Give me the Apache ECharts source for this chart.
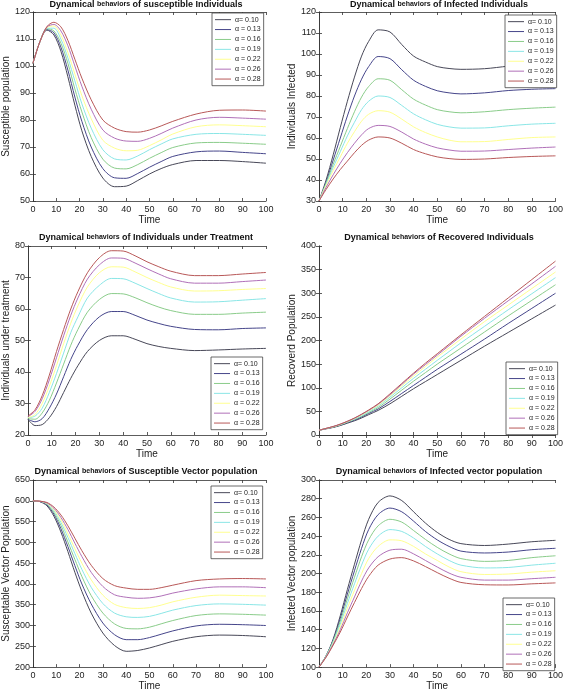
<!DOCTYPE html>
<html><head><meta charset="utf-8">
<script src="https://cdn.jsdelivr.net/npm/echarts@6/dist/echarts.min.js"></script>
<style>html,body{margin:0;padding:0;background:#fff}#c{width:566px;height:692px}</style>
</head><body><div id="c"></div>
<script>
// Time samples shared by all panels
const T = [0,3,6,9,12,15,18,21,25,30,35,40,45,50,55,60,70,80,90,100];
const alphaNames = ['α= 0.10','α = 0.13','α = 0.16','α = 0.19','α = 0.22','α = 0.26','α = 0.28'];

// Panel 1: susceptible individuals
const S_010 = [101,109,113.3,111.5,105.5,96,85.5,76,66.5,58.5,55.3,55.5,57.6,60,62,63.5,65,65,64.6,64];
const S_013 = [101,109,113.5,112.3,107,98.5,88.5,79.5,70,62,58.6,58.4,60.2,62.5,64.6,66.5,68.2,68.5,68,67.5];
const S_016 = [101,109,113.8,113,108.5,101,91.5,83,73.5,65.5,62.2,61.9,63.5,65.8,67.9,69.8,71.5,71.7,71.4,71];
const S_019 = [101,109,114,114,110,103,94.5,86,77,69,65.6,65.2,66.7,69,71.1,73,74.7,75,74.7,74.3];
const S_022 = [101,109,114.2,114.8,111.5,105,97,89,80.5,72.5,69.6,68.6,68.8,70.5,72.6,74.8,77.5,78.2,77.9,77.5];
const S_026 = [101,109,114.4,115.4,113,107.5,100,92.5,84,76.3,73.3,72.2,72.1,73.2,75,77,80,81,80.7,80.3];
const S_028 = [101,109,114.6,116.2,114.5,109.5,102.5,95.5,87.5,80,77,75.7,75.5,76.3,77.8,79.5,82.2,83.6,83.7,83.3];

// Panel 2: infected individuals
const I_010 = [30,40,52,65,77.5,89,99,106,111.5,110.5,104.5,99,96.2,94,93.1,92.7,93,94.2,95.2,95.5];
const I_013 = [30,39,49.5,60,70.5,80,88,94,98.8,97.8,92.5,87.5,84.6,82.5,81.5,81,81.5,82.6,83.2,83.5];
const I_016 = [30,38.5,47.5,56,64.5,72.5,79.5,84.5,88.2,87.5,83,78.5,75.7,73.5,72.5,72,72.5,73.5,74.2,74.7];
const I_019 = [30,38,46,53.5,61,67.5,73.5,77.5,80,79.3,75.5,71.5,68.7,66.5,65.3,64.7,64.8,65.8,66.6,67];
const I_022 = [30,37.5,44.5,51,57.5,63,68,71.3,73,72.3,69,65.3,62.6,60.5,59,58.2,58.3,59.3,60.2,60.5];
const I_026 = [30,36.5,42.5,48,53,57.5,61.5,64.5,66,65.5,62.8,59.5,57.1,55.3,54.3,53.7,53.8,54.5,55.2,55.7];
const I_028 = [30,35.5,40.5,45,49,53,56.5,59,60.5,60,57.5,54.5,52.5,51,50.2,49.8,50,50.7,51.2,51.5];

// Panel 3: individuals under treatment
const Tr_010 = [25,23,23.3,25.5,29,33.5,38,42,46.5,50,51.5,51.5,50.4,49,48.1,47.5,46.8,47,47.3,47.5];
const Tr_013 = [25,24.2,25.2,28.5,33,38.5,44,48.5,53.5,57.5,59.2,59.2,58,56.5,55.4,54.5,53.5,53.4,53.8,54];
const Tr_016 = [25.2,25,27,31,36.5,42.5,48.5,53.5,59,63,64.9,64.8,63.6,62,60.6,59.5,58.3,58.3,58.7,59];
const Tr_019 = [25.5,26,28.5,33.5,39.5,46,52.5,57.5,63.5,67.5,69.7,69.6,68.2,66.5,64.9,63.5,62.2,62.3,62.8,63.3];
const Tr_022 = [25.5,26.5,30,35.5,42,49,55.5,61,67,71.5,73.4,73.3,71.8,70,68.4,67,65.7,65.8,66.2,66.5];
const Tr_026 = [25.8,27.5,31.5,37.5,44.5,51.5,58,63.5,69.5,74,76.2,76.1,74.6,72.8,71.1,69.6,68.2,68.2,68.7,69.2];
const Tr_028 = [26,28,32.5,39,46.5,53.5,60,65.5,71.5,76.3,78.5,78.4,76.9,75,73.4,72,70.6,70.6,71.1,71.6];

// Panel 4: recovered individuals
const R_010 = [10,13,16,20,25,30,36,43,52,66,82,98,113,128,143,158,188,217,246,275];
const R_013 = [10,13.5,16.5,21,26,31.5,38,45.5,55,71,88,105,122,139,155,171,203,236,268,300];
const R_016 = [10,13.5,17,21.5,27,33,39.5,47.5,58,76,95,114,132,150,167,184,218,252,285,318];
const R_019 = [10,14,17.5,22,28,34,41,49,61,80,100,120,139,158,176.5,195,230,265,299,333];
const R_022 = [10,14,17.5,22.5,28.5,35,42.5,51,63,83,104,125,145,165,184,203,240,275,310,345];
const R_026 = [10,14,18,23,29,35.5,43.5,52,65,85,107,129,149,169,189,209,247,284,320,357];
const R_028 = [10,14,18,23,29,36,44,53,66,87,109,131,152,172,192,212,251,290,329,368];

// Panel 5: susceptible vector population
const SV_010 = [600,598,588,563,525,478,428,382,330,282,252,238,240,246,254,262,273,277,276,273];
const SV_013 = [600,598,590,568,533,490,444,400,352,306,278,266,266,271,279,287,299,303,302,300];
const SV_016 = [600,599,592,572,541,501,459,418,372,330,304,293,292,296,304,312,324,328,327,325];
const SV_019 = [600,599,593,576,548,512,473,435,392,353,330,321,319.5,322,329,337,348,352,351,349];
const SV_022 = [600,599,594,579,554,521,485,450,410,373,351,343,341,343,349,357,368,373,372,371];
const SV_026 = [600,599,595,582,560,531,498,466,428,394,374,368,365.5,366.5,371,378,388,393,393,391];
const SV_028 = [600,599,596,585,566,540,510,480,445,413,396,390,387,387,391,397,408,412,413,412];

// Panel 6: infected vector population
const IV_010 = [100,112,130,155,183,210,236,258,276,283,278,266,254,244,236.5,232,230,231.5,234,235.5];
const IV_013 = [100,112,129,152,178,203,227,247,263,270,266,256,245,236,229,224,222,223,225.5,227];
const IV_016 = [100,112,128,149,173,196,218,236,251,258,255,246,236.5,228,221,216,213,214,217,219];
const IV_019 = [100,111.5,127,146,168,189,209,226,240,247,245,238,229,221,214,209,206,206.5,209,211];
const IV_022 = [100,111,125.5,143,163,182,200,216,229,236,235,229,221,214,207,202,199,199.5,201.5,203];
const IV_026 = [100,111,124.5,140,158,175,192,206,218,225,226,221,214,207,200.5,196,193,193,194.5,196];
const IV_028 = [100,110.5,123.5,137.5,153.5,169,184,197,209,215.5,217,213.5,207.5,201,195,190.5,188,187.8,189,190];

const titles = [
  ['Dynamical ','behaviors',' of susceptible Individuals'],
  ['Dynamical ','behaviors',' of Infected Individuals'],
  ['Dynamical ','behaviors',' of Individuals under Treatment'],
  ['Dynamical ','behaviors',' of Recovered Individuals'],
  ['Dynamical ','behaviors',' of Susceptible Vector population'],
  ['Dynamical ','behaviors',' of Infected vector population']
];
const yNames = ['Susceptible population','Individuals Infected','Individuals under treatment','Recoverd Population','Susceptable Vector Population','Infected Vector population'];
const yRanges = [[50,120,10],[30,120,10],[20,80,10],[0,400,50],[200,650,50],[100,300,20]];
const panelData = [
  [S_010,S_013,S_016,S_019,S_022,S_026,S_028],
  [I_010,I_013,I_016,I_019,I_022,I_026,I_028],
  [Tr_010,Tr_013,Tr_016,Tr_019,Tr_022,Tr_026,Tr_028],
  [R_010,R_013,R_016,R_019,R_022,R_026,R_028],
  [SV_010,SV_013,SV_016,SV_019,SV_022,SV_026,SV_028],
  [IV_010,IV_013,IV_016,IV_019,IV_022,IV_026,IV_028]
];

// ---- layout / style ----
const colors = ['#484858','#45458a','#8acc8a','#8ae6e6','#ffff90','#b070b8','#b85858'];
const gridsPos = [
  {left:26, top:12}, {left:319, top:12},
  {left:26, top:246}, {left:319, top:246},
  {left:26, top:480}, {left:319, top:480}
];
const titleY = [0, 0, 233, 233, 467, 467];
const yNameGap = [14, 18, 14, 18, 17, 19];
const legendPos = [
  {left:212, top:13}, {left:505, top:15},
  {left:211, top:357}, {left:506, top:362},
  {left:211, top:486}, {left:503, top:598}
];
const FONT = '"Liberation Sans", Arial, sans-serif';

const grid = [], xAxis = [], yAxis = [], series = [], title = [], legend = [];
gridsPos.forEach((g, p) => {
  grid.push({left:g.left, top:g.top, width:240, height:189, containLabel:false});
  const tick = {show:true, inside:true, length:3, lineStyle:{color:'#333', width:0.8}};
  const line = {show:true, lineStyle:{color:'#333', width:0.8}};
  xAxis.push({type:'value', gridIndex:p, min:0, max:100, interval:10, position:'bottom',
    axisLine:line, axisTick:tick, splitLine:{show:false},
    axisLabel:{fontSize:9, color:'#222', margin:4, fontFamily:FONT},
    name:'Time', nameLocation:'middle', nameGap:13,
    nameTextStyle:{fontSize:10, color:'#222', fontFamily:FONT}});
  xAxis.push({type:'value', gridIndex:p, min:0, max:100, interval:10, position:'top',
    axisLine:line, axisTick:tick, splitLine:{show:false}, axisLabel:{show:false}});
  const [mn, mx, iv] = yRanges[p];
  yAxis.push({type:'value', gridIndex:p, min:mn, max:mx, interval:iv, position:'left',
    axisLine:line, axisTick:tick, splitLine:{show:false},
    axisLabel:{fontSize:9, color:'#222', margin:3, fontFamily:FONT},
    name:yNames[p], nameLocation:'middle', nameGap:yNameGap[p], nameRotate:90,
    nameTextStyle:{fontSize:10, color:'#222', fontFamily:FONT}});
  yAxis.push({type:'value', gridIndex:p, min:mn, max:mx, interval:iv, position:'right',
    axisLine:line, axisTick:tick, splitLine:{show:false}, axisLabel:{show:false}});
  const t = titles[p];
  title.push({
    text:'{b|'+t[0]+'}{s|'+t[1]+'}{b|'+t[2]+'}',
    left:g.left+120, top:titleY[p], textAlign:'center', padding:0,
    textStyle:{rich:{
      b:{fontSize:9, fontWeight:'bold', color:'#111', fontFamily:FONT},
      s:{fontSize:7, color:'#111', fontFamily:FONT}
    }}
  });
  legend.push({
    left:legendPos[p].left, top:legendPos[p].top, orient:'vertical',
    data:alphaNames, icon:'rect', itemWidth:16, itemHeight:1, itemGap:0.6,
    padding:[2,3,2,3], borderColor:'#444', borderWidth:0.8, backgroundColor:'#fff',
    selectedMode:false,
    textStyle:{fontSize:7, color:'#222', lineHeight:9.3, fontFamily:FONT, padding:[0,0,0,-1]}
  });
  panelData[p].forEach((arr, i) => {
    series.push({
      type:'line', name:alphaNames[i], xAxisIndex:2*p, yAxisIndex:2*p,
      data:T.map((tt, k) => [tt, arr[k]]), smooth:0.3, showSymbol:false,
      lineStyle:{color:colors[i], width:1}, itemStyle:{color:colors[i]},
      silent:true, animation:false, z:2+i
    });
  });
});

const chart = echarts.init(document.getElementById('c'), null, {renderer:'canvas'});
chart.setOption({backgroundColor:'#fff', animation:false, title, grid, xAxis, yAxis, legend, series});
</script></body></html>
